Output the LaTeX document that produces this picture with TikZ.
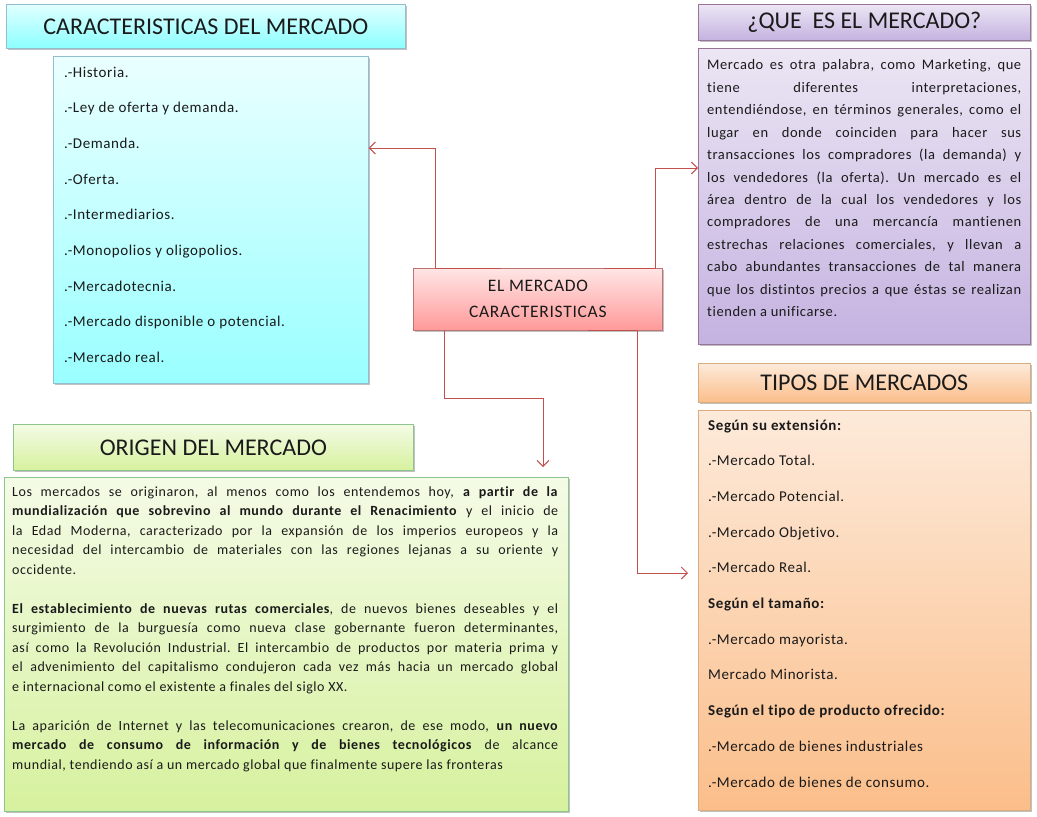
\documentclass[tikz,border=0pt]{standalone}
\usepackage{fontspec}
\setmainfont{Carlito}[Ligatures=NoCommon]
\newfontfamily\bodyfont[LetterSpace=4,Ligatures=NoCommon]{Carlito}
\usetikzlibrary{arrows.meta,shadows,calc}
\definecolor{arrowred}{HTML}{C0504D}
\definecolor{txt}{HTML}{1A1A1A}
\newcommand\pjl[1]{\makebox[314pt][s]{#1}}
\newcommand\gjl[1]{\makebox[546pt][s]{#1}}
\frenchspacing
\begin{document}
\begin{tikzpicture}[x=1pt,y=-1pt,
  box/.style={draw, line width=0.7pt, anchor=north west, inner sep=0pt,
    drop shadow={shadow xshift=1.2pt,shadow yshift=-2pt,opacity=0.35,fill=black!70}},
  cyanbox/.style={box, draw=cyan!60!black!50, top color=cyan!12, bottom color=cyan!45!white},
  cyanbody/.style={box, draw=cyan!60!black!50, top color=cyan!8, bottom color=cyan!40!white},
  redbox/.style={box, draw=red!55!black!55, top color=red!10, bottom color=red!40!white},
  purplebox/.style={box, draw=violet!55!black!55, top color={rgb,255:red,236;green,230;blue,244}, bottom color={rgb,255:red,196;green,178;blue,224}},
  orangebox/.style={box, draw=orange!70!black!50, top color={rgb,255:red,253;green,234;blue,218}, bottom color={rgb,255:red,251;green,190;blue,138}},
  greenbox/.style={box, draw=green!50!black!45, top color={rgb,255:red,244;green,251;blue,230}, bottom color={rgb,255:red,214;green,241;blue,158}},
  title/.style={text=txt, font=\fontsize{24}{28}\selectfont, inner sep=0pt},
  item/.style={text=txt, font=\bodyfont\fontsize{15}{18}\selectfont, inner sep=0pt, anchor=base west},
  conn/.style={draw=arrowred, line width=1pt, -{Straight Barb[length=6pt,width=12pt]}}
]
\useasboundingbox (0,0) rectangle (1037,817);

% boxes
\node[cyanbox, minimum width=399pt, minimum height=44pt] (ct) at (6,4) {};
\node[cyanbody, minimum width=315pt, minimum height=327pt] (cb) at (53,56) {};
\node[purplebox, minimum width=332pt, minimum height=36pt] (pt) at (698,4) {};
\node[purplebox, minimum width=332pt, minimum height=296pt] (pb) at (698,48) {};
\node[orangebox, minimum width=332pt, minimum height=39pt] (ot) at (698,363) {};
\node[orangebox, minimum width=332pt, minimum height=400pt] (ob) at (698,410) {};
\node[greenbox, minimum width=400pt, minimum height=46pt] (gt) at (13,424) {};
\node[greenbox, minimum width=564pt, minimum height=334pt] (gb) at (4,477) {};
\node[redbox, minimum width=249pt, minimum height=62pt] (mk) at (413,268) {};

% titles
\node[title] (ctt) at (ct.center) {CARACTERISTICAS DEL MERCADO};
\node[title] (ptt) at (pt.center) {¿QUE\ \ ES EL MERCADO?};
\node[title] (ott) at (ot.center) {TIPOS DE MERCADOS};
\node[title] (gtt) at (gt.center) {ORIGEN DEL MERCADO};
\node[text=txt, font=\bodyfont\fontsize{17.5}{26}\selectfont, align=center, inner sep=0pt] (mkt) at (mk.center) {EL MERCADO\\CARACTERISTICAS};

% cyan list
\foreach \t [count=\i] in {.-Historia., .-Ley de oferta y demanda., .-Demanda., .-Oferta., .-Intermediarios., .-Monopolios y oligopolios., .-Mercadotecnia., .-Mercado disponible o potencial., .-Mercado real.}
  \node[item] (c\i) at (64, {77+35.7*(\i-1)}) {\t};

% orange list
\foreach \t [count=\i] in {{\bfseries Según su extensión:}, .-Mercado Total., .-Mercado Potencial., .-Mercado Objetivo., .-Mercado Real., {\bfseries Según el tamaño:}, .-Mercado mayorista., Mercado Minorista., {\bfseries Según el tipo de producto ofrecido:}, .-Mercado de bienes industriales, .-Mercado de bienes de consumo.}
  \node[item] (o\i) at (708, {430+35.7*(\i-1)}) {\t};

% purple paragraph
\node[text=txt, font=\bodyfont\fontsize{14.5}{22.45}\selectfont, align=left, inner sep=0pt, anchor=north west] (ptx) at (707,59.5) {%
\pjl{Mercado es otra palabra, como Marketing, que}\\
\pjl{tiene diferentes interpretaciones,}\\
\pjl{entendiéndose, en términos generales, como el}\\
\pjl{lugar en donde coinciden para hacer sus}\\
\pjl{transacciones los compradores (la demanda) y}\\
\pjl{los vendedores (la oferta). Un mercado es el}\\
\pjl{área dentro de la cual los vendedores y los}\\
\pjl{compradores de una mercancía mantienen}\\
\pjl{estrechas relaciones comerciales, y llevan a}\\
\pjl{cabo abundantes transacciones de tal manera}\\
\pjl{que los distintos precios a que éstas se realizan}\\
tienden a unificarse.};

% green paragraphs
\node[text=txt, font=\bodyfont\fontsize{14}{19.5}\selectfont, align=left, inner sep=0pt, anchor=north west] (gtx) at (12,486) {%
\gjl{Los mercados se originaron, al menos como los entendemos hoy, \textbf{a partir de la}}\\
\gjl{\textbf{mundialización que sobrevino al mundo durante el Renacimiento} y el inicio de}\\
\gjl{la Edad Moderna, caracterizado por la expansión de los imperios europeos y la}\\
\gjl{necesidad del intercambio de materiales con las regiones lejanas a su oriente y}\\
occidente.\\[19.5pt]
\gjl{\textbf{El establecimiento de nuevas rutas comerciales}, de nuevos bienes deseables y el}\\
\gjl{surgimiento de la burguesía como nueva clase gobernante fueron determinantes,}\\
\gjl{así como la Revolución Industrial. El intercambio de productos por materia prima y}\\
\gjl{el advenimiento del capitalismo condujeron cada vez más hacia un mercado global}\\
e internacional como el existente a finales del siglo XX.\\[19.5pt]
\gjl{La aparición de Internet y las telecomunicaciones crearon, de ese modo, \textbf{un nuevo}}\\
\gjl{\textbf{mercado de consumo de información y de bienes tecnológicos} de alcance}\\
mundial, tendiendo así a un mercado global que finalmente supere las fronteras};

% connectors
\draw[conn] ([xshift=88pt]mk.north west) -- ([xshift=22pt]mk.north west) |- ([yshift=-92pt]cb.north east);
\draw[conn] ([xshift=191pt]mk.north west) -- ([xshift=242pt]mk.north west) |- ([yshift=-120pt]pb.north west);
\draw[conn] ([xshift=31pt]mk.south west) -- ++(0,68) -| ([xshift=539pt,yshift=10pt]gb.north west);
\draw[conn] ([xshift=175pt]mk.south west) -- ([xshift=224pt]mk.south west) |- ([xshift=-10pt,yshift=-163pt]ob.north west);
\end{tikzpicture}
\end{document}
